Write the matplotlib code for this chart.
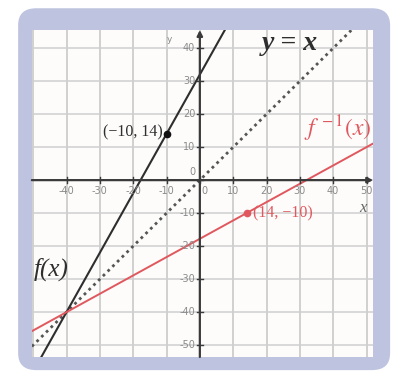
import matplotlib.pyplot as plt
from matplotlib.patches import FancyBboxPatch

# two points on each line; the three lines meet at (-40, -40)
f_points = [(-40, -40), (-10, 14)]
finv_points = [(-40, -40), (14, -10)]
identity_points = [(0, 0), (10, 10)]

# labelled points
f_dot = (-10, 14)
finv_dot = (14, -10)

x_ticks = [-40, -30, -20, -10, 0, 10, 20, 30, 40, 50]
y_ticks = [-50, -40, -30, -20, -10, 0, 10, 20, 30, 40]
grid_x = [-50, -40, -30, -20, -10, 0, 10, 20, 30, 40, 50]
grid_y = [-50, -40, -30, -20, -10, 0, 10, 20, 30, 40]

serif = ["Liberation Serif", "DejaVu Serif"]
black = "#2e2e2e"
red = "#e0585e"
tick_grey = "#8a8a8a"

fig = plt.figure(figsize=(4.03, 3.75), dpi=100)
fig.patch.set_facecolor("white")

# rounded lavender card behind the graph
card = FancyBboxPatch((0.045, 0.013), 0.923, 0.965,
                      boxstyle="round,pad=0,rounding_size=0.045",
                      transform=fig.transFigure, facecolor="#bec4e0",
                      edgecolor="none", zorder=-10)
fig.add_artist(card)

ax = fig.add_axes([0.079, 0.048, 0.847, 0.872])
ax.set_zorder(1)
ax.set_facecolor("#fdfcfb")
ax.set_xlim(-50.4, 52)
ax.set_ylim(-53.6, 45.5)
for s in ax.spines.values():
    s.set_visible(False)
ax.set_xticks([])
ax.set_yticks([])

for gx in grid_x:
    ax.axvline(gx, color="#c4c4c4", lw=1.1, zorder=1)
for gy in grid_y:
    ax.axhline(gy, color="#cfcfcf", lw=1.1, zorder=1)

# axes with arrow heads
ax.annotate("", xy=(52, 0), xytext=(-50.4, 0),
            arrowprops=dict(arrowstyle="-|>", color="#3a3a3a", lw=1.6,
                            mutation_scale=8, shrinkA=0, shrinkB=0), zorder=3)
ax.annotate("", xy=(0, 45.5), xytext=(0, -53.6),
            arrowprops=dict(arrowstyle="-|>", color="#3a3a3a", lw=1.6,
                            mutation_scale=8, shrinkA=0, shrinkB=0), zorder=3)

# small tick marks and labels
for t in x_ticks:
    ax.plot([t, t], [-0.9, 0.9], color="#3a3a3a", lw=1, zorder=3)
    lx = t + 1.5 if t == 0 else t
    ax.text(lx, -3.2, str(t), fontsize=7, color=tick_grey,
            ha="center", va="center", zorder=4)
for t in y_ticks:
    ax.plot([-0.9, 0.9], [t, t], color="#3a3a3a", lw=1, zorder=3)
    ax.text(-1.4, t + (2.5 if t == 0 else 0), str(t), fontsize=7,
            color=tick_grey, ha="right", va="center", zorder=4)

ax.text(-9, 42.5, "y", fontsize=6.5, color=tick_grey, ha="center", va="center")
ax.text(49, -8.5, "x", fontsize=12, color="#666666", family=serif,
        style="italic", ha="center", va="center")

# the function, its inverse and y = x
ax.axline(*identity_points, color="#555555", lw=2, ls=(0, (1, 1.4)), zorder=2)
ax.axline(*f_points, color=black, lw=1.5, zorder=2)
ax.axline(*finv_points, color=red, lw=1.4, zorder=2)

ax.plot(*f_dot, "o", color="#111111", ms=4.5, zorder=5)
ax.plot(*finv_dot, "o", color=red, ms=4.5, zorder=5)

ax.text(f_dot[0] - 1.2, f_dot[1] + 0.5, "(−10, 14)", fontsize=11.5,
        color=black, family=serif, ha="right", va="center", zorder=5)
ax.text(finv_dot[0] + 1.8, finv_dot[1], "(14, −10)", fontsize=11.5,
        color=red, family=serif, ha="left", va="center", zorder=5)

ax.text(-44.5, -27, "f(x)", fontsize=18, color=black, family=serif,
        style="italic", ha="center", va="center", zorder=5)
ax.text(27, 41.3, "y = x", fontsize=20, color=black, family=serif,
        style="italic", weight="bold", ha="center", va="center", zorder=5)
ax.text(41.5, 15.5, r"$f^{\,-1}(x)$", fontsize=17, color=red,
        ha="center", va="center", zorder=5, math_fontfamily="stix")

fig.savefig("out.png", dpi=100)
